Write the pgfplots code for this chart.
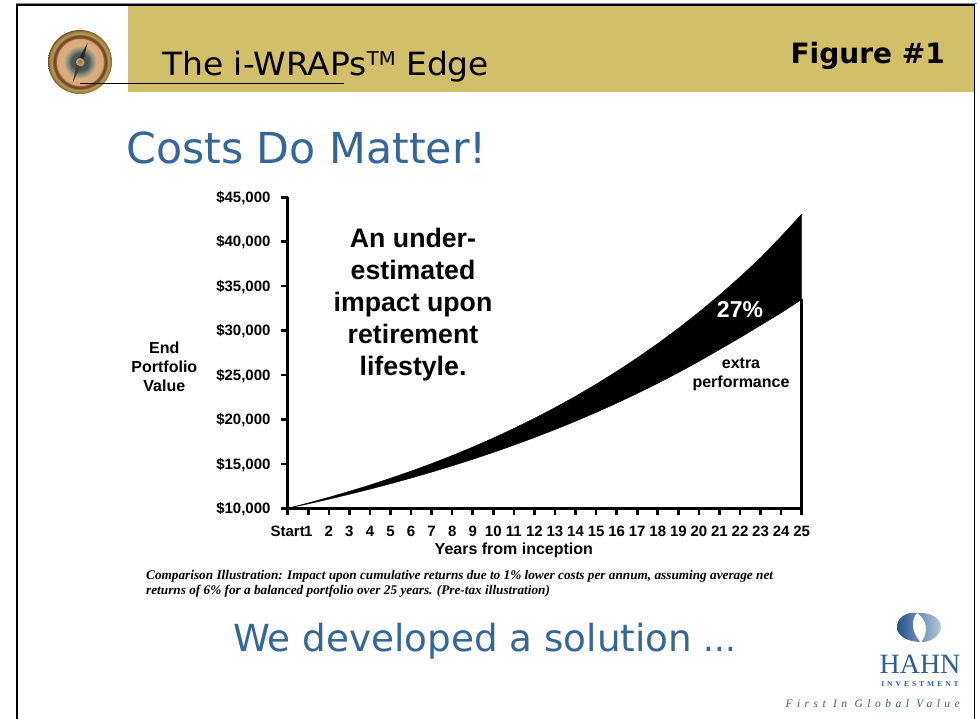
\documentclass[border=0pt]{standalone}
\usepackage{pgfplots}
\pgfplotsset{compat=1.18}
\usepackage{fontspec}
\setmainfont{Liberation Sans}
\newfontfamily\hd{DejaVu Sans}
\newfontfamily\sr{Liberation Serif}
\usetikzlibrary{shadings}
\definecolor{gold}{HTML}{D2BF69}
\definecolor{slideblue}{HTML}{336699}
\definecolor{logoblue}{HTML}{2B5E9B}
\newcommand{\bl}[1]{\fontsize{#1}{#1}\selectfont\bfseries}
\definecolor{ca}{HTML}{8A7A60}\definecolor{cb}{HTML}{C0A060}\definecolor{cc}{HTML}{4A4A40}
\definecolor{cd}{HTML}{4A5A60}\definecolor{ce}{HTML}{90907A}\definecolor{cf}{HTML}{D8B080}
\definecolor{cg}{HTML}{D8A878}\definecolor{ch}{HTML}{904830}\definecolor{ci}{HTML}{6A4A20}
\definecolor{cj}{HTML}{B09A58}\definecolor{ck}{HTML}{A08040}\definecolor{cl}{HTML}{705020}
\pgfdeclareradialshading{compassdial}{\pgfpointorigin}{
 color(0bp)=(ca); color(2.3bp)=(cb); color(3.5bp)=(cc); color(7bp)=(cd); color(10bp)=(ce);
 color(13bp)=(cf); color(18bp)=(cg); color(19bp)=(ch); color(20.5bp)=(ci); color(22bp)=(cj);
 color(24bp)=(ck); color(25bp)=(cl); color(50bp)=(cl)}
\begin{document}
\begin{tikzpicture}
\path[use as bounding box] (0pt,0pt) rectangle (977pt,-719pt);
\begin{scope}[x=1pt,y=-1pt]
\fill[white] (0,0) rectangle (977,719);
\fill[gold] (128,5) rectangle (974,92);
\draw[black!45,line width=1pt] (16,3.5) -- (977,3.5);
\draw[black,line width=1.6pt] (17,719) -- (17,5) -- (974.5,5) -- (974.5,719);
% compass
\shade[shading=compassdial] (80,62) circle (32);
\fill[black!85] (87.5,43) -- (82.5,63) -- (77.5,61) -- cycle;
\fill[black!75] (72.5,83) -- (77.5,61) -- (82.5,63) -- cycle;
\fill[cb] (80,62) circle (4);
\fill[ca] (80,62) circle (2);
\draw[black,line width=0.8pt] (80,83) -- (344,83);
\node[anchor=base west,inner sep=0,text=black,xscale=1.03] at (162,76) {\hd\fontsize{32}{32}\selectfont The i-WRAPs\raisebox{10pt}{\fontsize{19}{19}\selectfont TM} Edge};
\node[anchor=base east,inner sep=0,text=black] at (945,64) {\hd\fontsize{28}{28}\selectfont\bfseries Figure \#1};
\node[anchor=base west,inner sep=0,text=slideblue] at (126,164) {\hd\fontsize{42.7}{42.7}\selectfont Costs Do Matter!};
\node[anchor=base west,inner sep=0,text=slideblue] at (233,651) {\hd\fontsize{37.3}{37.3}\selectfont We developed a solution \fontsize{34}{34}\selectfont ...};
\end{scope}
\begin{axis}[
  at={(287.7pt,-508.3pt)},anchor=south west,
  width=514pt,height=311pt,scale only axis,
  xmin=0,xmax=25,ymin=10000,ymax=45000,
  scaled y ticks=false,
  axis x line*=bottom,axis y line*=left,
  axis line style={black,line width=3pt},
  xtick={0,...,25},
  xticklabels={Start\hspace{2.5pt},1,2,3,4,5,6,7,8,9,10,11,12,13,14,15,16,17,18,19,20,21,22,23,24,25},
  ytick={10000,15000,20000,25000,30000,35000,40000,45000},
  yticklabels={{\$10,000},{\$15,000},{\$20,000},{\$25,000},{\$30,000},{\$35,000},{\$40,000},{\$45,000}},
  tick style={black,line width=2.6pt},
  major tick length=6.5pt,
  tick align=outside,
  ticklabel style={font=\bl{15}},
  xticklabel style={yshift=-11pt,inner sep=0pt},
  yticklabel style={xshift=-10.5pt,yshift=-0.8pt,inner sep=0pt},
  xlabel={Years from inception},
  xlabel style={font=\bl{16},at={(axis description cs:0.44,0)},anchor=north,yshift=-34pt,inner sep=0pt},
  ylabel={End\\[3pt]Portfolio\\[3pt]Value},
  ylabel style={font=\bl{16},rotate=-90,align=center,at={(axis description cs:-0.24,0.455)},anchor=center,inner sep=0pt},
  clip=false,
]
\addplot[fill=black,draw=black,line width=0.4pt] coordinates {
(0,10000)(1,10600)(2,11236)(3,11910)(4,12625)(5,13382)(6,14185)(7,15036)(8,15938)(9,16895)(10,17908)(11,18983)(12,20122)(13,21329)(14,22609)(15,23966)(16,25404)(17,26928)(18,28543)(19,30256)(20,32071)(21,33996)(22,36035)(23,38197)(24,40600)(25,43100)
(25,33500)(24,32000)(23,30600)(22,29200)(21,27860)(20,26533)(19,25270)(18,24066)(17,22920)(16,21829)(15,20789)(14,19799)(13,18856)(12,17959)(11,17103)(10,16289)(9,15513)(8,14775)(7,14071)(6,13401)(5,12763)(4,12155)(3,11576)(2,11025)(1,10500)(0,10000)} -- cycle;
\addplot[black,line width=3pt] coordinates {(25,10000)(25,33600)};
\end{axis}
\begin{scope}[x=1pt,y=-1pt]
\node[align=center,inner sep=0,text=black,font=\bl{26.7}] at (413,304.5) {An under-\\[5.3pt]estimated\\[5.3pt]impact upon\\[5.3pt]retirement\\[5.3pt]lifestyle.};
\node[inner sep=0,text=white,font=\bl{23}] at (740,310) {27\%};
\node[align=center,inner sep=0,text=black,font=\bl{16}] at (741,374) {extra\\[3pt]performance};
\node[anchor=base west,inner sep=0,text=black] at (146,579) {\sr\fontsize{13.25}{13.25}\selectfont\bfseries\itshape Comparison Illustration: Impact upon cumulative returns due to 1\% lower costs per annum, assuming average net};
\node[anchor=base west,inner sep=0,text=black] at (146,594.5) {\sr\fontsize{13.25}{13.25}\selectfont\bfseries\itshape returns of 6\% for a balanced portfolio over 25 years. (Pre-tax illustration)};
% logo
\shade[left color=logoblue!90!black,right color=logoblue!35] (918,613) .. controls (905,611) and (897,619) .. (897,627) .. controls (897,636) and (907,642) .. (922,642) .. controls (931,642) and (940,636) .. (941,627) .. controls (941,618) and (930,612) .. (918,613) -- cycle;
\fill[white] (917,613) .. controls (911,620) and (911,632) .. (921,642.5) .. controls (929,632) and (927,620) .. (917,613) -- cycle;
\node[inner sep=0,text=logoblue,anchor=base] at (920,673) {\sr\fontsize{28}{28}\selectfont HAHN};
\node[inner sep=0,text=logoblue,anchor=base] at (920,686) {\sr\fontsize{7.5}{7.5}\selectfont\bfseries\addfontfeature{LetterSpace=40}INVESTMENT};
\node[inner sep=0,text=logoblue,anchor=base east] at (960,707) {\sr\fontsize{11.5}{11.5}\selectfont\itshape\addfontfeature{LetterSpace=39}First In Global Value};
\end{scope}
\end{tikzpicture}
\end{document}
